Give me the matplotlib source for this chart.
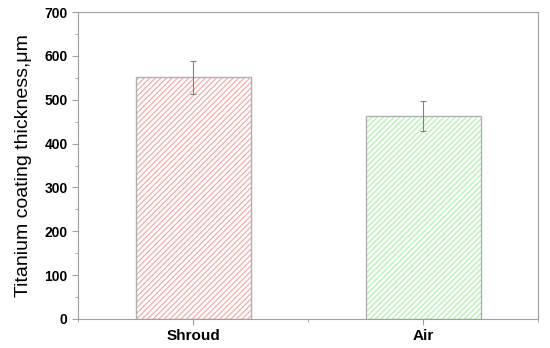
import numpy as np
import matplotlib.pyplot as plt
from matplotlib.ticker import MultipleLocator

# Data
categories = ["Shroud", "Air"]
thickness = [551, 463]
errors = [38, 35]
edge_colors = ["#f4a3a3", "#a6f0a6"]

plt.rcParams["font.family"] = ["Liberation Sans", "DejaVu Sans"]
plt.rcParams["hatch.linewidth"] = 0.8

fig = plt.figure(figsize=(5.5, 3.48), dpi=100)
ax = fig.add_axes([78 / 550, 1 - 319 / 348, 460 / 550, 307 / 348])

x = np.arange(1, len(categories) + 1)
for xi, val, col in zip(x, thickness, edge_colors):
    ax.bar(xi, val, width=0.5, color="white", edgecolor=col, hatch="//////",
           linewidth=0, zorder=2)
    ax.bar(xi, val, width=0.5, fill=False, edgecolor="#b0b0b0",
           linewidth=1.0, zorder=3)
ax.errorbar(x, thickness, yerr=errors, fmt="none", ecolor="#808080",
            elinewidth=0.8, capsize=2, capthick=0.8, zorder=4)

ax.set_xlim(0.5, 2.5)
ax.set_ylim(0, 700)
ax.set_xticks(x)
ax.set_xticklabels(categories, fontsize=11, fontweight="bold")
ax.xaxis.set_minor_locator(MultipleLocator(0.5))
ax.yaxis.set_major_locator(MultipleLocator(100))
ax.yaxis.set_minor_locator(MultipleLocator(50))
for lbl in ax.get_yticklabels():
    lbl.set_fontsize(10)
    lbl.set_fontweight("bold")
ax.set_ylabel("Titanium coating thickness,\u03bcm", fontsize=14, labelpad=9)

for sp in ax.spines.values():
    sp.set_color("#a0a0a0")
    sp.set_linewidth(0.8)
ax.tick_params(which="both", color="#a0a0a0", direction="out")
ax.tick_params(which="major", length=4)
ax.tick_params(which="minor", length=2.5)

fig.savefig("out.png", dpi=100)
